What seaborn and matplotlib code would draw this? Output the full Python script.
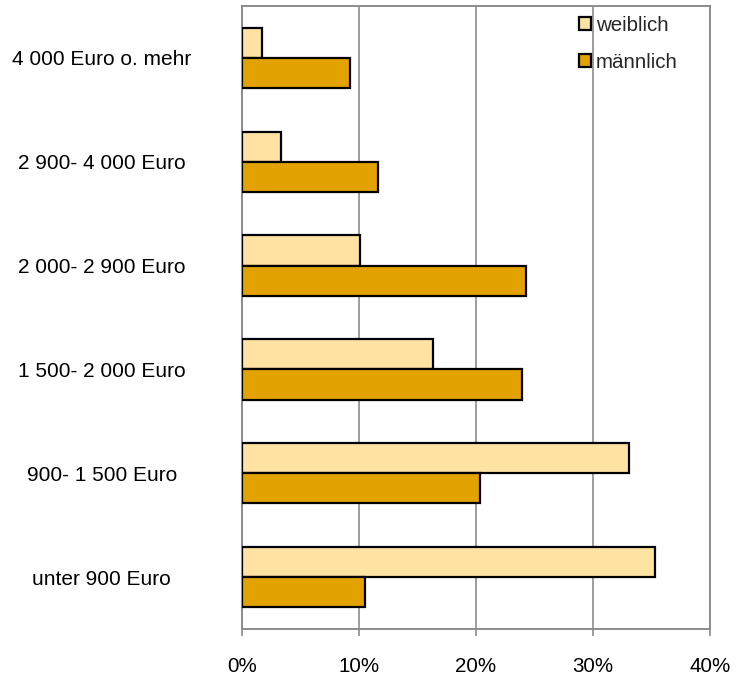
import matplotlib
matplotlib.use("Agg")
import matplotlib.pyplot as plt
import seaborn as sns
import pandas as pd
from matplotlib.ticker import FuncFormatter

categories = ["4 000 Euro o. mehr", "2 900- 4 000 Euro", "2 000- 2 900 Euro",
              "1 500- 2 000 Euro", "900- 1 500 Euro", "unter 900 Euro"]
weiblich = [1.7, 3.3, 10.1, 16.3, 33.1, 35.3]
maennlich = [9.2, 11.65, 24.3, 23.9, 20.3, 10.5]
series = ["weiblich", "männlich"]
xticks = [0, 10, 20, 30, 40]
colors = {"weiblich": "#FFE3A2", "männlich": "#E2A200"}

df = pd.DataFrame({
    "Kategorie": categories * 2,
    "Wert": weiblich + maennlich,
    "Geschlecht": [series[0]] * len(categories) + [series[1]] * len(categories),
})

sns.set_theme(style="white")
plt.rcParams["font.family"] = ["Liberation Sans", "DejaVu Sans"]

fig = plt.figure(figsize=(7.41, 6.79), dpi=100)
ax = fig.add_axes([242 / 741, 1 - 629 / 679, (710 - 242) / 741, (629 - 6) / 679])

sns.barplot(data=df, y="Kategorie", x="Wert", hue="Geschlecht", order=categories,
            hue_order=series, palette=colors, orient="h", width=0.58, gap=0,
            edgecolor="black", linewidth=1.6, ax=ax, saturation=1, zorder=3)

grey = "#8C8C8C"
ax.set_xlim(0, 40)
ax.set_ylim(5.5, -0.5)
ax.set_xticks(xticks)
ax.xaxis.set_major_formatter(FuncFormatter(lambda v, p: f"{int(v)}%"))
ax.grid(axis="x", color=grey, linewidth=1.2, zorder=0)
ax.set_axisbelow(True)
for s in ax.spines.values():
    s.set_color(grey)
    s.set_linewidth(1.4)
ax.set_xlabel("")
ax.set_ylabel("")
ax.tick_params(axis="x", bottom=True, length=5, width=1.2, color=grey, pad=15,
               labelsize=14.8, labelcolor="black")
ax.tick_params(axis="y", left=False, length=0, pad=101, labelsize=15, labelcolor="black")
for lab in ax.get_yticklabels():
    lab.set_horizontalalignment("center")

leg = ax.legend(loc="upper left", bbox_to_anchor=(579 / 741, 1 - 16 / 679),
                bbox_transform=fig.transFigure, frameon=False, fontsize=14.8,
                handlelength=0.6, handleheight=0.6, handletextpad=0.22,
                labelspacing=0.88, borderpad=0, borderaxespad=0)
for h in leg.legend_handles:
    h.set_edgecolor("black")
    h.set_linewidth(1.6)

fig.savefig("out.png", dpi=100)
